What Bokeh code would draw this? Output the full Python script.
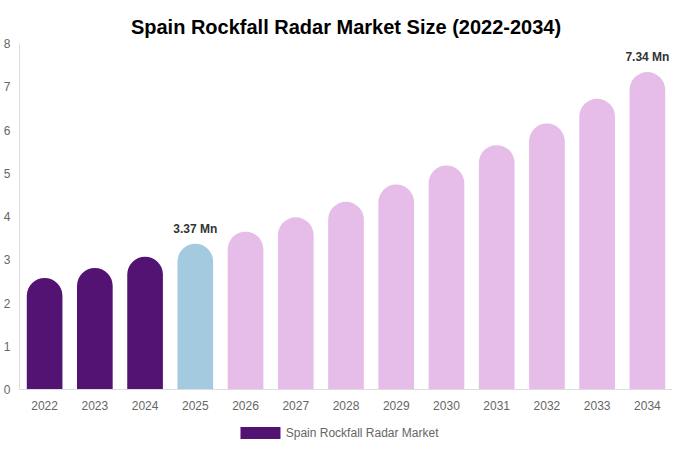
from bokeh.plotting import figure
from bokeh.models import ColumnDataSource
from bokeh.layouts import column
from bokeh.core.properties import value
from bokeh.embed import file_html
from bokeh.resources import INLINE

# Market size (USD Mn) by year
years = ["2022", "2023", "2024", "2025", "2026", "2027", "2028",
         "2029", "2030", "2031", "2032", "2033", "2034"]
sizes = [2.58, 2.81, 3.07, 3.37, 3.65, 3.98, 4.34, 4.74, 5.18, 5.65, 6.15, 6.72, 7.34]
kinds = ["hist", "hist", "hist", "base", "fcst", "fcst", "fcst",
         "fcst", "fcst", "fcst", "fcst", "fcst", "fcst"]
labelled = ["2025", "2034"]
y_ticks = [0, 1, 2, 3, 4, 5, 6, 7, 8]
legend_label = "Spain Rockfall Radar Market"

palette = {"hist": "#531373", "base": "#a4cae0", "fcst": "#e6bce8"}
FONT = "Liberation Sans"
W = 672

source = ColumnDataSource(dict(
    year=years,
    size=sizes,
    color=[palette[k] for k in kinds],
))

lab_idx = [years.index(y) for y in labelled]
lab_source = ColumnDataSource(dict(
    year=[years[i] for i in lab_idx],
    size=[sizes[i] for i in lab_idx],
    text=[f"{sizes[i]:.2f} Mn" for i in lab_idx],
))

p = figure(
    x_range=years,
    y_range=(0, 8),
    width=W,
    height=423,
    title="Spain Rockfall Radar Market Size (2022-2034)",
    toolbar_location=None,
    output_backend="svg",
    min_border_left=12,
    min_border_right=0,
    min_border_top=43,
    min_border_bottom=34,
)
p.x_range.range_padding = 0
p.outline_line_color = None
p.grid.visible = False

p.title.align = "center"
p.title.vertical_align = "middle"
p.title.text_font = FONT
p.title.text_font_size = "20px"
p.title.text_font_style = "bold"
p.title.text_color = "#000000"

# rounded-top bars
p.vbar(x="year", top="size", width=0.71, source=source,
       fill_color="color", line_color=None,
       border_radius=(18, 18, 0, 0))

p.text(x="year", y="size", text="text", source=lab_source,
       text_align="center", text_baseline="bottom", y_offset=-8,
       text_font=value(FONT), text_font_size="12px",
       text_font_style="bold", text_color="#333333")

for ax in (p.xaxis, p.yaxis):
    ax.axis_line_color = "#dddddd"
    ax.major_tick_line_color = None
    ax.minor_tick_line_color = None
    ax.major_label_text_font = FONT
    ax.major_label_text_font_size = "12px"
    ax.major_label_text_color = "#666666"

p.yaxis.ticker = y_ticks
p.yaxis.major_label_standoff = 3
p.xaxis.major_label_standoff = 5

# legend strip underneath the chart
leg = figure(
    width=W, height=19,
    x_range=(0, W), y_range=(0, 19),
    toolbar_location=None, output_backend="svg",
    x_axis_location=None, y_axis_location=None,
    min_border=0,
)
leg.outline_line_color = None
leg.grid.visible = False
leg.rect(x=[248], y=[9.5], width=40, height=12,
         width_units="screen", height_units="screen",
         fill_color=palette["hist"], line_color=None)
leg.text(x=[274], y=[9.5], text=[legend_label],
         text_align="left", text_baseline="middle",
         text_font=value(FONT), text_font_size="12px", text_color="#666666")

layout = column(p, leg, spacing=0)

open("out.html", "w").write(file_html(layout, INLINE))
